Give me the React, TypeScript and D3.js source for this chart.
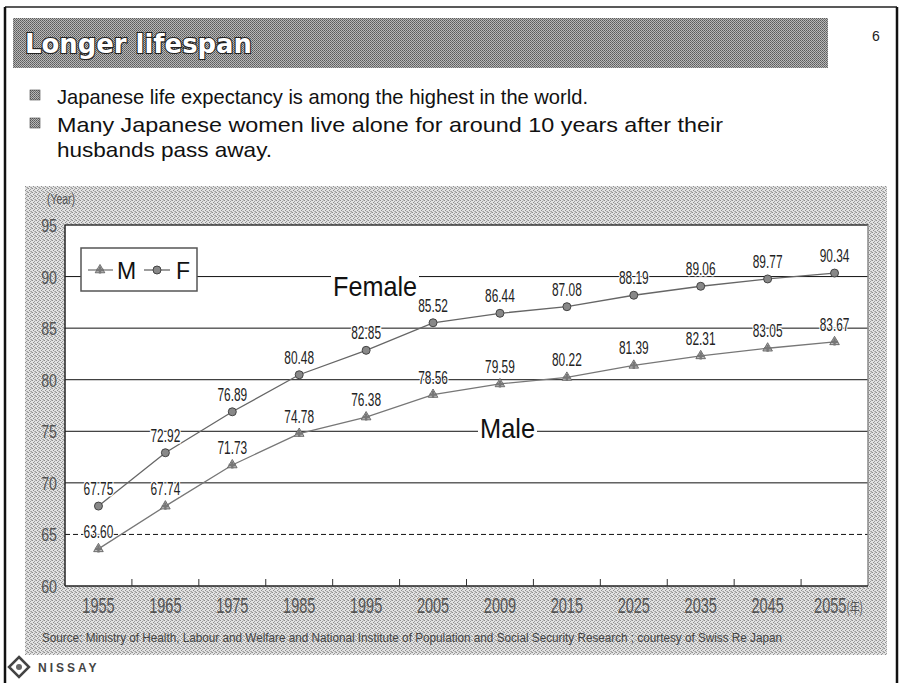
import React from "react";
import * as d3 from "d3";

const years = ["1955", "1965", "1975", "1985", "1995", "2005", "2009", "2015", "2025", "2035", "2045", "2055(年)"];
const male = [63.6, 67.74, 71.73, 74.78, 76.38, 78.56, 79.59, 80.22, 81.39, 82.31, 83.05, 83.67];
const female = [67.75, 72.92, 76.89, 80.48, 82.85, 85.52, 86.44, 87.08, 88.19, 89.06, 89.77, 90.34];
const yTicks = [60, 65, 70, 75, 80, 85, 90, 95];
const solidGrid = [70, 75, 80, 85, 90];
const dashedGrid = [65];
const bullets = [
  ["Japanese life expectancy is among the highest in the world."],
  ["Many Japanese women live alone for around 10 years after their", "husbands pass away."],
];
const sourceText =
  "Source: Ministry of Health, Labour and Welfare and National Institute of Population and Social Security Research ; courtesy of Swiss Re Japan";

const W = 903;
const H = 683;
const plot = { left: 65, right: 868, top: 225, bottom: 586 };
const sans = "'Liberation Sans', Arial, sans-serif";
const body = "'Liberation Sans', Tahoma, 'DejaVu Sans', sans-serif";

function CText(props: {
  x: number;
  y: number;
  sx: number;
  size: number;
  fill?: string;
  anchor?: string;
  halo?: boolean;
  children: React.ReactNode;
}) {
  const { x, y, sx, size, fill = "#222", anchor = "middle", halo = false, children } = props;
  return (
    <text
      transform={`translate(${x},${y}) scale(${sx},1)`}
      fontFamily={sans}
      fontSize={size}
      fill={fill}
      textAnchor={anchor}
      stroke={halo ? "#fff" : undefined}
      strokeWidth={halo ? 3 : undefined}
      style={halo ? { paintOrder: "stroke" } : undefined}
    >
      {children}
    </text>
  );
}

export default function App() {
  const x = d3.scaleBand<string>().domain(years).range([plot.left, plot.right]).padding(0);
  const y = d3.scaleLinear().domain([60, 95]).range([plot.bottom, plot.top]);
  const cx = (i: number) => (x(years[i]) as number) + x.bandwidth() / 2;
  const line = d3
    .line<number>()
    .x((_, i) => cx(i))
    .y((v) => y(v));
  const tri = d3.symbol().type(d3.symbolTriangle).size(40)() as string;
  const ast = d3.symbol().type(d3.symbolCross).size(28)() as string;

  return (
    <svg width={W} height={H} style={{ display: "block", position: "absolute", left: 0, top: 0 }}>
      <defs>
        <pattern id="dither" width="4" height="4" patternUnits="userSpaceOnUse">
          <rect width="4" height="4" fill="#e2e2e2" />
          <rect x="0" y="0" width="1" height="1" fill="#8c8c8c" />
          <rect x="2" y="1" width="1" height="1" fill="#9c9c9c" />
          <rect x="1" y="2" width="1" height="1" fill="#8c8c8c" />
          <rect x="3" y="3" width="1" height="1" fill="#a0a0a0" />
          <rect x="3" y="0" width="1" height="1" fill="#b4b4b4" />
          <rect x="2" y="3" width="1" height="1" fill="#b8b8b8" />
        </pattern>
        <pattern id="ditherDark" width="2" height="2" patternUnits="userSpaceOnUse">
          <rect width="2" height="2" fill="#b8b8b8" />
          <rect x="0" y="0" width="1" height="1" fill="#5a5a5a" />
          <rect x="1" y="1" width="1" height="1" fill="#6e6e6e" />
        </pattern>
      </defs>
      <rect x={0} y={0} width={W} height={H} fill="#fff" />
      {/* slide frame */}
      <line x1={5} y1={7} x2={897} y2={7} stroke="#222" strokeWidth={1.5} />
      <line x1={5} y1={7} x2={5} y2={H} stroke="#111" strokeWidth={2.5} />
      <line x1={897} y1={7} x2={897} y2={H} stroke="#111" strokeWidth={2.5} />

      {/* title band */}
      <rect x={13} y={18} width={815} height={50} fill="url(#ditherDark)" />
      <text
        x={25}
        y={53}
        fontFamily="'DejaVu Sans', Verdana, sans-serif"
        fontWeight="bold"
        fontSize={26}
        fill="#fff"
        stroke="#222"
        strokeWidth={2.2}
        textLength={227}
        lengthAdjust="spacingAndGlyphs"
        style={{ paintOrder: "stroke" }}
      >
        Longer lifespan
      </text>
      <text x={876} y={41} fontFamily={sans} fontSize={14} fill="#222" textAnchor="middle">
        6
      </text>

      {/* bullets */}
      {(() => {
        const rows: JSX.Element[] = [];
        const ys = [[104], [132, 157]];
        const widths = [[531], [666, 215]];
        bullets.forEach((b, bi) => {
          rows.push(
            <rect key={"sq" + bi} x={30} y={ys[bi][0] - 14} width={10} height={10} fill="url(#ditherDark)" stroke="#444" strokeWidth={0.6} />
          );
          b.forEach((t, li) => {
            rows.push(
              <text
                key={"t" + bi + li}
                x={57}
                y={ys[bi][li]}
                fontFamily={body}
                fontSize={21}
                fill="#111"
                textLength={widths[bi][li]}
                lengthAdjust="spacingAndGlyphs"
              >
                {t}
              </text>
            );
          });
        });
        return rows;
      })()}

      {/* chart panel */}
      <rect x={25} y={186} width={862} height={469} fill="url(#dither)" />
      <rect x={plot.left} y={plot.top} width={plot.right - plot.left} height={plot.bottom - plot.top} fill="#fff" />

      {/* grid */}
      {solidGrid.map((v) => (
        <line key={"g" + v} x1={plot.left} x2={plot.right} y1={y(v)} y2={y(v)} stroke="#111" strokeWidth={1} />
      ))}
      {dashedGrid.map((v) => (
        <line key={"d" + v} x1={plot.left} x2={plot.right} y1={y(v)} y2={y(v)} stroke="#111" strokeWidth={1} strokeDasharray="5,3" />
      ))}
      {/* frame */}
      <line x1={plot.left} x2={plot.right} y1={plot.top} y2={plot.top} stroke="#333" strokeWidth={1.5} />
      <line x1={plot.right} x2={plot.right} y1={plot.top} y2={plot.bottom} stroke="#888" strokeWidth={1.5} />
      <line x1={plot.left} x2={plot.left} y1={plot.top} y2={plot.bottom} stroke="#222" strokeWidth={1.5} />
      <line x1={plot.left} x2={plot.right} y1={plot.bottom} y2={plot.bottom} stroke="#222" strokeWidth={1.5} />
      {years.slice(1).map((yr) => (
        <line key={"tk" + yr} x1={x(yr) as number} x2={x(yr) as number} y1={plot.bottom} y2={plot.bottom - 7} stroke="#333" strokeWidth={1} />
      ))}

      {/* y labels */}
      <CText x={61} y={204} sx={0.75} size={14} fill="#555">
        (Year)
      </CText>
      {yTicks.map((v) => (
        <CText key={"yt" + v} x={57} y={y(v) + 7} sx={0.75} size={19} fill="#555" anchor="end">
          {v}
        </CText>
      ))}
      {/* x labels */}
      {years.map((yr) => {
        const base = yr.split("(")[0];
        const suffix = yr.includes("(") ? "(" + yr.split("(")[1] : "";
        return (
          <CText key={"xl" + yr} x={cx(years.indexOf(yr)) + (suffix ? 4 : 0)} y={613} sx={0.66} size={22} fill="#555">
            {base}
            {suffix && (
              <tspan fontSize={15} fontFamily="'Noto Sans CJK JP', sans-serif">
                {suffix}
              </tspan>
            )}
          </CText>
        );
      })}

      {/* series labels */}
      <rect x={331} y={272} width={88} height={26} fill="#fff" />
      <text x={333} y={296} fontFamily={sans} fontSize={28} fill="#111" textLength={84} lengthAdjust="spacingAndGlyphs">
        Female
      </text>
      <rect x={478} y={420} width={59} height={20} fill="#fff" />
      <text x={480} y={438} fontFamily={sans} fontSize={28} fill="#111" textLength={55} lengthAdjust="spacingAndGlyphs">
        Male
      </text>

      {/* lines */}
      <path d={line(female) as string} fill="none" stroke="#666" strokeWidth={1.3} />
      <path d={line(male) as string} fill="none" stroke="#777" strokeWidth={1.3} />
      {female.map((v, i) => (
        <circle key={"fm" + i} cx={cx(i)} cy={y(v)} r={4} fill="#888" stroke="#444" strokeWidth={1} />
      ))}
      {male.map((v, i) => (
        <g key={"mm" + i} transform={`translate(${cx(i)},${y(v)})`}>
          <path d={tri} fill="#bbb" stroke="#555" strokeWidth={0.8} />
          <path d={ast} fill="#777" />
        </g>
      ))}

      {/* value labels */}
      {female.map((v, i) => (
        <CText key={"fl" + i} x={cx(i)} y={y(v) - 11} sx={0.66} size={18} fill="#222" halo>
          {v.toFixed(2)}
        </CText>
      ))}
      {male.map((v, i) => (
        <CText key={"ml" + i} x={cx(i)} y={y(v) - 11} sx={0.66} size={18} fill="#222" halo>
          {v.toFixed(2)}
        </CText>
      ))}

      {/* legend */}
      <rect x={81} y={248} width={116} height={43} fill="#fff" stroke="#555" strokeWidth={1.5} />
      <line x1={88} x2={113} y1={270} y2={270} stroke="#777" strokeWidth={1.3} />
      <g transform="translate(100,270)">
        <path d={tri} fill="#bbb" stroke="#555" strokeWidth={0.8} />
        <path d={ast} fill="#777" />
      </g>
      <text x={117} y={279} fontFamily={sans} fontSize={23} fill="#111">
        M
      </text>
      <line x1={144} x2={170} y1={270} y2={270} stroke="#666" strokeWidth={1.3} />
      <circle cx={157} cy={270} r={4} fill="#888" stroke="#444" strokeWidth={1} />
      <text x={176} y={279} fontFamily={sans} fontSize={23} fill="#111">
        F
      </text>

      {/* source */}
      <text x={42} y={642} fontFamily={sans} fontSize={12} fill="#444" textLength={740} lengthAdjust="spacingAndGlyphs">
        {sourceText}
      </text>

      {/* logo */}
      <g transform="translate(19,667)">
        <path d="M0,-10 L10,0 L0,10 L-10,0 Z" fill="none" stroke="#444" strokeWidth={2.5} />
        <circle r={3} fill="#666" />
      </g>
      <text x={38} y={672} fontFamily={sans} fontWeight="bold" fontSize={12} fill="#444" letterSpacing={3}>
        NISSAY
      </text>
    </svg>
  );
}
